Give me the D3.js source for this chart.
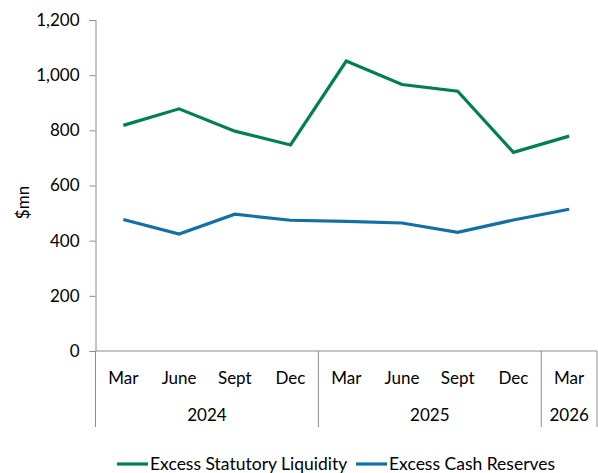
<!DOCTYPE html>
<html>
<head>
<meta charset="utf-8">
<script src="https://cdn.jsdelivr.net/npm/d3@7"></script>
<style>
  body { margin: 0; background: #fff; }
  text { font-family: Lato, "Open Sans", sans-serif; fill: #000; }
</style>
</head>
<body>
<div id="chart"></div>
<script>
// data
const months = ["Mar", "June", "Sept", "Dec", "Mar", "June", "Sept", "Dec", "Mar"];
const years = [
  {label: "2024", from: 0, to: 4},
  {label: "2025", from: 4, to: 8},
  {label: "2026", from: 8, to: 9}
];
const statutory = [818, 878, 797, 747, 1051, 966, 942, 720, 779];
const cash = [477, 424, 496, 474, 470, 464, 430, 475, 514];
const yTicks = [0, 200, 400, 600, 800, 1000, 1200];

const W = 598, H = 473;
const plot = {left: 95.5, right: 597, top: 20, bottom: 351};
const green = "#00804b", blue = "#1270a5", grey = "#8c8c8c";
const fs = "17px";

const svg = d3.select("#chart").append("svg")
    .attr("width", W)
    .attr("height", H);

const x = d3.scaleBand()
    .domain(months.map((d, i) => i))
    .range([plot.left, plot.right])
    .padding(0);

const y = d3.scaleLinear()
    .domain([0, 1200])
    .range([plot.bottom, plot.top]);

// Y axis
const yAxis = svg.append("g")
    .attr("transform", `translate(${plot.left},0)`)
    .call(d3.axisLeft(y).tickValues(yTicks).tickSize(6).tickPadding(10).tickFormat(d3.format(",")));
yAxis.select(".domain").attr("stroke", grey);
yAxis.selectAll(".tick line").attr("stroke", grey);
yAxis.selectAll("text").style("font-size", fs).attr("fill", "#000");

svg.append("text")
    .attr("transform", `translate(23,${(plot.top + plot.bottom) / 2 + 17}) rotate(-90)`)
    .attr("text-anchor", "middle")
    .attr("dy", "0.35em")
    .style("font-size", fs)
    .text("$mn");

// X axis baseline
svg.append("line")
    .attr("x1", plot.left).attr("x2", plot.right)
    .attr("y1", y(0)).attr("y2", y(0))
    .attr("stroke", grey);

// group separators
const seps = [0, 4, 8, 9];
svg.selectAll(".sep")
  .data(seps)
  .join("line")
    .attr("class", "sep")
    .attr("x1", d => d === 9 ? plot.right : x(d))
    .attr("x2", d => d === 9 ? plot.right : x(d))
    .attr("y1", y(0))
    .attr("y2", 427)
    .attr("stroke", grey);

svg.selectAll(".month")
  .data(months)
  .join("text")
    .attr("class", "month")
    .attr("x", (d, i) => x(i) + x.bandwidth() / 2)
    .attr("y", 378)
    .attr("dy", "0.35em")
    .attr("text-anchor", "middle")
    .style("font-size", fs)
    .text(d => d);

svg.selectAll(".year")
  .data(years)
  .join("text")
    .attr("class", "year")
    .attr("x", d => (x(d.from) + (d.to === 9 ? plot.right : x(d.to))) / 2)
    .attr("y", 415)
    .attr("dy", "0.35em")
    .attr("text-anchor", "middle")
    .style("font-size", fs)
    .text(d => d.label);

// lines
const line = d3.line()
    .x((d, i) => x(i) + x.bandwidth() / 2)
    .y(d => y(d));

svg.append("path")
    .datum(statutory)
    .attr("fill", "none")
    .attr("stroke", green)
    .attr("stroke-width", 3.2)
    .attr("d", line);

svg.append("path")
    .datum(cash)
    .attr("fill", "none")
    .attr("stroke", blue)
    .attr("stroke-width", 3.2)
    .attr("d", line);

// legend
const legend = [
  {name: "Excess Statutory Liquidity", color: green, x: 117},
  {name: "Excess Cash Reserves", color: blue, x: 356}
];
const lg = svg.selectAll(".legend")
  .data(legend)
  .join("g")
    .attr("class", "legend")
    .attr("transform", d => `translate(${d.x},464)`);
lg.append("line")
    .attr("x1", 0).attr("x2", 31)
    .attr("stroke", d => d.color)
    .attr("stroke-width", 3.2);
lg.append("text")
    .attr("x", 33)
    .attr("dy", "0.35em")
    .style("font-size", "17.5px")
    .text(d => d.name);
</script>
</body>
</html>
